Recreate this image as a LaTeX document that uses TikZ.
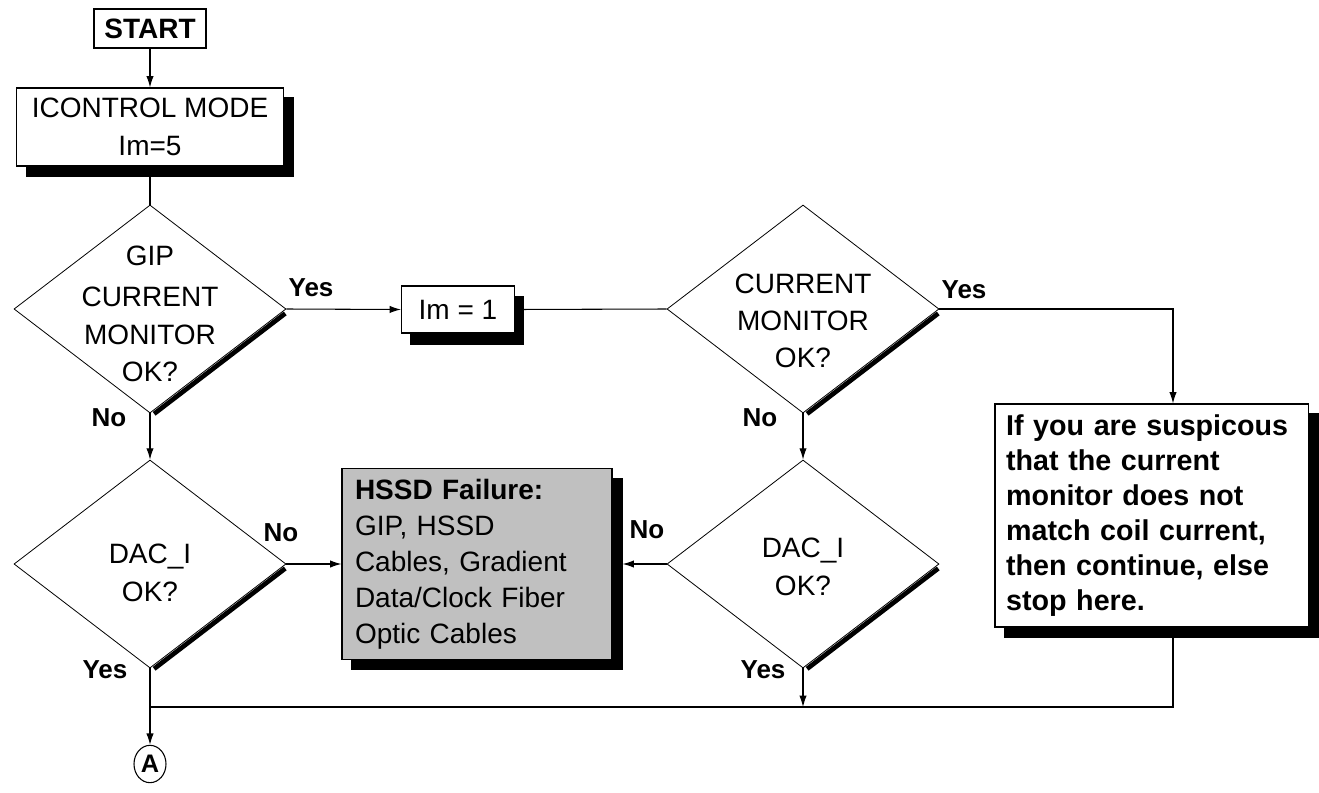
\documentclass[tikz,border=0pt]{standalone}
\usepackage{fontspec}
\setmainfont{Liberation Sans}
\usetikzlibrary{shapes.geometric,arrows.meta,backgrounds}
\hyphenpenalty=10000

\begin{document}
\begin{tikzpicture}[x=0.75pt,y=0.75pt,yscale=-1,
  every node/.style={font=\fontsize{21}{28}\selectfont},
  box/.style={draw,fill=white,line width=0.8pt,inner sep=0pt,align=center},
  decision/.style={diamond,draw,line width=0.6pt,inner sep=0pt,minimum width=204pt,minimum height=156pt},
  dtext/.style={align=center},
  answer/.style={font=\bfseries\fontsize{19.5}{24}\selectfont},
  flow/.style={-{Latex[length=8.5pt,width=5.5pt]},line width=0.8pt},
  link/.style={line width=0.8pt},
  rim/.style={line width=3.5pt,shorten <=3pt,shorten >=2pt}]
%set diagram size to 1319 x 792
\useasboundingbox (0,0) rectangle (1319,792);

%Shape: Rectangle [start]
\node[box,minimum width=84pt,minimum height=29.25pt,font=\bfseries\fontsize{21}{28}\selectfont] (start) at (150,28.5) {START};
%Shape: Rectangle [icontrol mode]
\node[box,minimum width=200pt,minimum height=58.5pt,font=\fontsize{21}{29}\selectfont] (ictl) at (150,127) {ICONTROL MODE\\Im=5};
%Shape: Rectangle [im = 1]
\node[box,minimum width=84.75pt,minimum height=35.25pt] (im1) at (458,309.5) {Im = 1};
%Shape: Rectangle [hssd failure]
\node[box,fill={rgb,255:red,192;green,192;blue,192},align=left,inner xsep=9.75pt,text width=183pt,minimum height=143.25pt,font=\fontsize{21}{27}\selectfont] (hssd) at (477,564) {\textbf{HSSD Failure:}\\GIP, HSSD\\Cables, Gradient\\Data/Clock Fiber\\Optic Cables};
%Shape: Rectangle [note]
\node[box,align=left,inner xsep=8.4pt,text width=218pt,minimum height=167.25pt,font=\bfseries\fontsize{21.5}{26.25}\selectfont] (tb) at (1151.5,515.5) {If you are suspicous\\that the current\\monitor does not\\match coil current,\\then continue, else\\stop here.};

%Shape: Diamond
\node[decision] (g1) at (150,309) {};
\node[dtext] (g1t) at (150,314) {GIP\\[3pt]CURRENT\\MONITOR\\OK?};
\node[decision] (cm) at (803,309) {};
\node[dtext] (cmt) at (803,321) {CURRENT\\MONITOR\\OK?};
\node[decision] (d1) at (150,564) {};
\node[dtext] (d1t) at (150,573) {DAC\_I\\OK?};
\node[decision] (d2) at (803,564) {};
\node[dtext] (d2t) at (803,567) {DAC\_I\\OK?};

%Shape: Ellipse [connector A]
\node[ellipse,draw,line width=0.8pt,inner sep=0pt,minimum width=24pt,minimum height=28pt,font=\bfseries\fontsize{19}{24}\selectfont] (conA) at (150,764) {A};

\coordinate (tbx) at (1173,309);
\coordinate (merge) at (150,707);

%Shadows
\begin{scope}[on background layer]
\fill ([shift={(10,10)}]ictl.north west) rectangle ([shift={(10,10)}]ictl.south east);
\fill ([shift={(9,11)}]im1.north west) rectangle ([shift={(9,11)}]im1.south east);
\fill ([shift={(10,10)}]hssd.north west) rectangle ([shift={(10,10)}]hssd.south east);
\fill ([shift={(10,10)}]tb.north west) rectangle ([shift={(10,10)}]tb.south east);
\end{scope}
\draw[rim] ([shift={(2,2)}]g1.east) -- ([shift={(2,2)}]g1.south);
\draw[rim] ([shift={(2,2)}]cm.east) -- ([shift={(2,2)}]cm.south);
\draw[rim] ([shift={(2,2)}]d1.east) -- ([shift={(2,2)}]d1.south);
\draw[rim] ([shift={(2,2)}]d2.east) -- ([shift={(2,2)}]d2.south);

%Connectors
\draw[flow] (start) -- (ictl);
\draw[link] (ictl) -- (g1);
\draw[flow] (g1.east) -- (im1.west);
\draw[link] (im1.east) -- (cm.west);
\draw[flow] (cm.east) -| (tbx |- tb.north);
\draw[flow] (g1.south) -- (d1.north);
\draw[flow] (cm.south) -- (d2.north);
\draw[flow] (d1.east) -- (hssd.west);
\draw[flow] (d2.west) -- ([xshift=7.5pt]hssd.east);
\draw[flow] (d1.south) -- (conA.north);
\draw[flow] (d2.south) -- (d2.south |- merge);
\draw[link] (tbx |- tb.south) |- (merge);

% Text Node
\node[answer] (g1yes) at (311,288) {Yes};
\node[answer] (g1no) at (109,418) {No};
\node[answer] (cmyes) at (964,290) {Yes};
\node[answer] (cmno) at (760,418) {No};
\node[answer] (d1no) at (281,533) {No};
\node[answer] (d1yes) at (105,670) {Yes};
\node[answer] (d2no) at (647,530) {No};
\node[answer] (d2yes) at (763,670) {Yes};

\end{tikzpicture}
\end{document}
